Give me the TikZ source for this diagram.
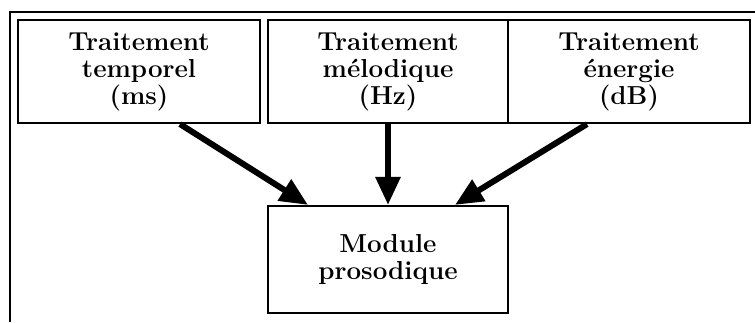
\documentclass[tikz,border=0pt]{standalone}
\usepackage{tikz}
\usetikzlibrary{positioning,arrows.meta}

\begin{document}
\begin{tikzpicture}[x=0.5pt, y=-0.5pt,
    box/.style={draw, line width=1.1pt, align=center, inner sep=0pt,
        minimum width=121pt, minimum height=51.5pt,
        font=\fontsize{13}{13.5}\selectfont\bfseries},
    flow/.style={-{Triangle[length=14pt,width=12pt]}, line width=3pt}]

    \useasboundingbox (0,0) rectangle (755,322);

    % cadre exterieur
    \coordinate (fr) at (755,12);
    \coordinate (fc) at (10,12);
    \coordinate (fb) at (10,322);
    \draw[line width=1.1pt] (fr) -- (fc) -- (fb);

    % traitements
    \node[box] (temp) at (139,71.5) {Traitement\\temporel\\(ms)};
    \node[box, minimum width=120pt] (melo) at (388,71.5) {Traitement\\m\'elodique\\(Hz)};
    \node[box] (ener) at (629,71.5) {Traitement\\\'energie\\(dB)};

    % module
    \node[box, minimum width=120pt, minimum height=53.5pt] (modu) at (388,259.5) {Module\\prosodique};

    \path[flow]
        ([xshift=20.5pt]temp.south) edge ([xshift=-40pt]modu.north)
        (melo.south) edge (modu.north)
        ([xshift=-21pt]ener.south) edge ([xshift=33.5pt]modu.north);

\end{tikzpicture}
\end{document}
